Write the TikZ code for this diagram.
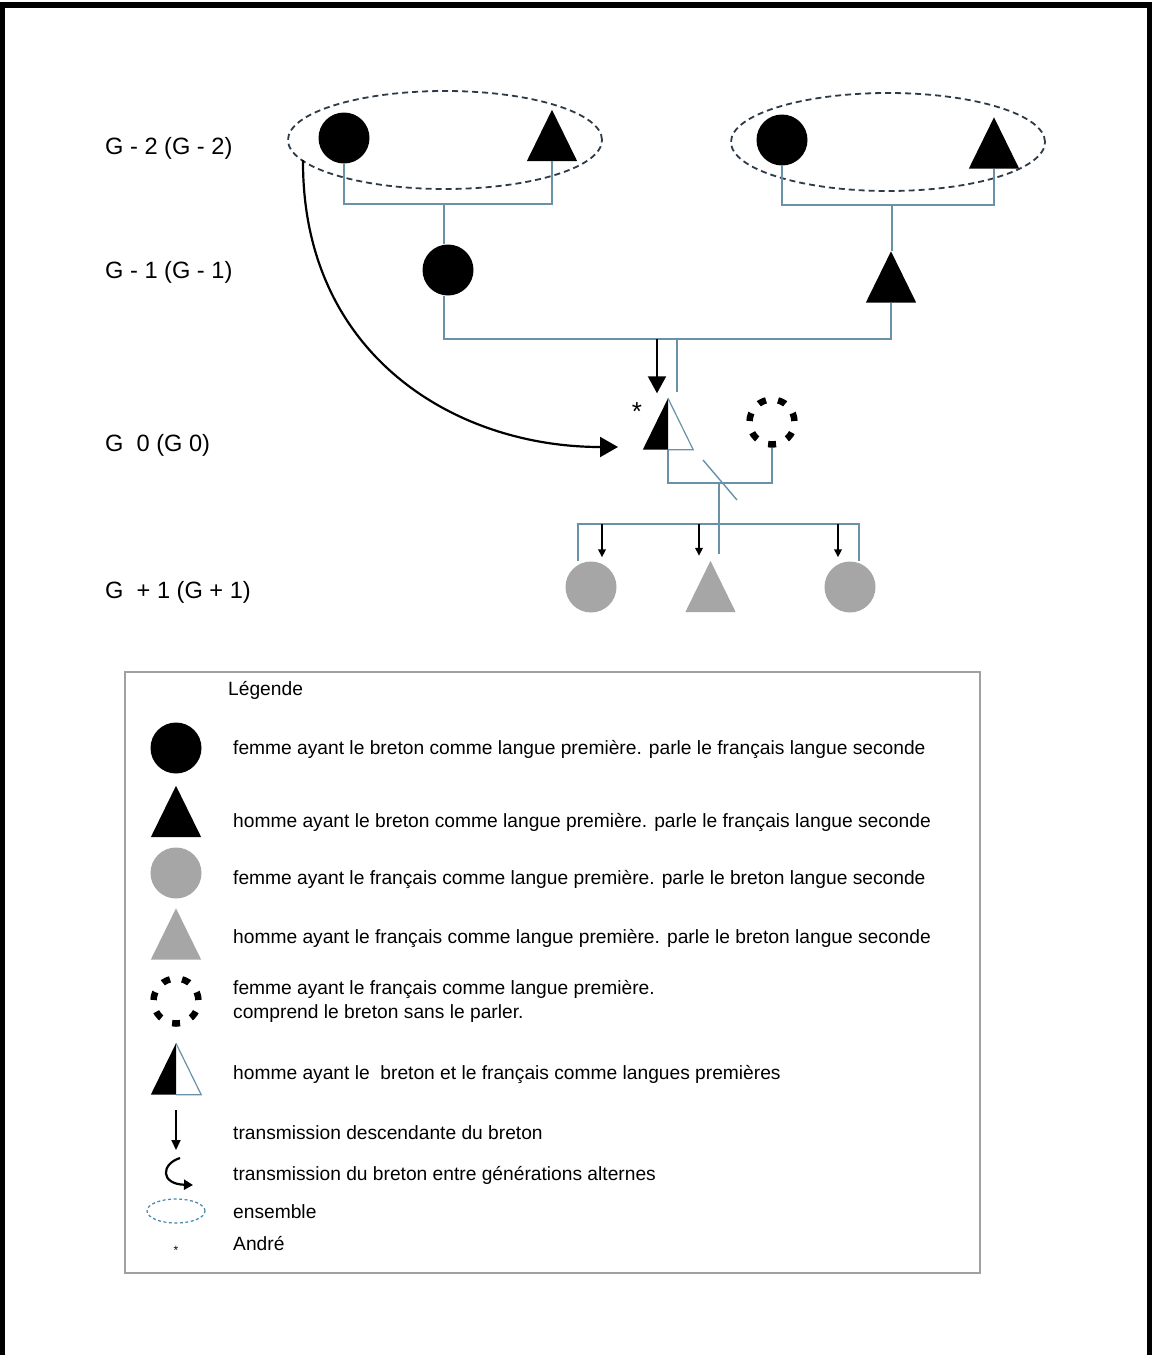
\documentclass[tikz,border=0pt]{standalone}
\usepackage{fontspec}
\setmainfont{Liberation Sans}
\usetikzlibrary{shapes.geometric,arrows.meta}
\definecolor{conn}{RGB}{105,145,168}
\definecolor{grayfill}{RGB}{166,166,166}
\definecolor{ensdash}{RGB}{45,58,72}
\definecolor{ensblue}{RGB}{70,135,170}
\definecolor{leggray}{RGB}{160,160,160}
\newcommand\trifill[2]{\fill[#2] (#1.north) -- (#1.south east) -- (#1.south west) -- cycle;}
\newcommand\trihalf[1]{\fill[black] (#1.north) -- (#1.south) -- (#1.south west) -- cycle;
  \draw[conn,line width=1.2] (#1.north) -- (#1.south east) -- (#1.south);}
\begin{document}
\begin{tikzpicture}[x=1pt,y=-1pt,
  fem/.style={circle, fill=black, minimum size=51, inner sep=0},
  femg/.style={circle, fill=grayfill, minimum size=51, inner sep=0},
  tribox/.style={rectangle, minimum width=50, minimum height=51, inner sep=0},
  dcirc/.style={circle, draw=black, line width=6.5, minimum size=45, inner sep=0, dash pattern=on 8 off 12.19, dash phase=19.2},
  link/.style={draw=conn, line width=1.4},
  ens/.style={ellipse, draw=ensdash, line width=1.8, dash pattern=on 6 off 4, inner sep=0},
  arrbig/.style={line width=2, -{Triangle[length=17,width=18]}},
  arrsmall/.style={line width=1.7, -{Triangle[length=8,width=7.5]}},
  glabel/.style={anchor=west, font=\fontsize{23.6}{27}\selectfont, inner sep=0},
  ltext/.style={anchor=west, font=\fontsize{19.2}{24}\selectfont, inner sep=0, align=left}]
\useasboundingbox (0,0) rectangle (1152,1355);
\fill[white] (0,0) rectangle (1152,1355);
% frame
\fill[black] (0,2) rectangle (1152,8);
\fill[black] (0,2) rectangle (5,1355);
\fill[black] (1147,2) rectangle (1152,1355);

% generation labels
\node[glabel] (lg2) at (105,148) {G - 2 (G - 2)};
\node[glabel] (lg1) at (105,272) {G - 1 (G - 1)};
\node[glabel] (lg0) at (105,445) {G~ 0 (G 0)};
\node[glabel] (lgp) at (105,592) {G~ + 1 (G + 1)};

% G-2
\node[ens, minimum width=314, minimum height=98] (e1) at (445,140) {};
\node[ens, minimum width=314, minimum height=98] (e2) at (888,142) {};
\node[fem] (c1) at (344,138) {};
\node[tribox] (t1) at (552,135.5) {};
\trifill{t1}{black}
\node[fem] (c2) at (782,140) {};
\node[tribox] (t2) at (994,143) {};
\trifill{t2}{black}

% G-1
\node[fem] (p1) at (448,270) {};
\node[tribox] (p2) at (891,277) {};
\trifill{p2}{black}

\coordinate (j1) at (444,204);
\coordinate (j2) at (892,205);
\draw[link] (c1.south) -- (c1.south |- j1) -- (t1.south |- j1) -- (t1.south);
\draw[link] (j1) -- (j1 |- p1.north);
\draw[link] (c2.south) -- (c2.south |- j2) -- (t2.south |- j2) -- (t2.south);
\draw[link] (j2) -- (j2 |- p2.north);

% G0
\node[tribox] (a) at (668,424) {};
\trihalf{a}
\node[font=\fontsize{26}{26}\selectfont, inner sep=0] (ast) at (637,412) {*};
\node[dcirc] (w) at (772,422) {};

\coordinate (j3) at (677,339);
\coordinate (d1) at (657,339);
\draw[link] (p1.south -| j1) -- (j1 |- j3) -- (p2.south |- j3) -- (p2.south);
\draw[link] (j3) -- ([yshift=6pt]j3 |- a.north);
\draw[arrbig] (d1) -- ([yshift=5pt]d1 |- a.north);

% curved arrow (alternate generations)
\coordinate (cs) at (303,160);
\coordinate (ce) at (618,447);
\draw[line width=2.2, -{Triangle[length=18,width=20]}] (cs) .. controls (302,355) and (455,447) .. (ce);

% marriage line
\coordinate (j4) at (719,483);
\draw[link] (a.south) -- (a.south |- j4) -- (w.south |- j4) -- (w.south);
\draw[link] ([shift={(-16,-23)}]j4) -- ([shift={(18,17)}]j4);

% G+1
\node[femg] (k1) at (591,587) {};
\node[tribox] (k2) at (710.5,586.5) {};
\trifill{k2}{grayfill}
\node[femg] (k3) at (850,587) {};

\coordinate (s1) at (578,524);
\coordinate (s2) at (859,524);
\draw[link] (j4) -- ([yshift=7pt]j4 |- k2.north);
\draw[link] (k1.north -| s1) -- (s1) -- (s2) -- (s2 |- k3.north);
\draw[arrsmall] ([xshift=11pt]s1 -| k1) -- ([xshift=11pt,yshift=4pt]k1.north);
\draw[arrsmall] ([xshift=-11.5pt]s1 -| k2) -- ([xshift=-11.5pt,yshift=5pt]k2.north);
\draw[arrsmall] ([xshift=-12pt]s1 -| k3) -- ([xshift=-12pt,yshift=4pt]k3.north);

% legend
\node[draw=leggray, line width=2.5, minimum width=855, minimum height=601, inner sep=0] (leg) at (552.5,972.5) {};
\node[ltext] (lt0) at (228,690) {Légende};

\node[fem] (l1) at (176,748) {};
\node[ltext] (lt1) at (233,749) {femme ayant le breton comme langue première. parle le français langue seconde};
\node[tribox] (l2) at (176,811.5) {};
\trifill{l2}{black}
\node[ltext] (lt2) at (233,822) {homme ayant le breton comme langue première. parle le français langue seconde};
\node[femg] (l3) at (176,873) {};
\node[ltext] (lt3) at (233,879) {femme ayant le français comme langue première. parle le breton langue seconde};
\node[tribox] (l4) at (176,934) {};
\trifill{l4}{grayfill}
\node[ltext] (lt4) at (233,938) {homme ayant le français comme langue première. parle le breton langue seconde};
\node[dcirc] (l5) at (176,1001) {};
\node[ltext] (lt5) at (233,1001) {femme ayant le français comme langue première.\\comprend le breton sans le parler.};
\node[tribox] (l6) at (176,1069) {};
\trihalf{l6}
\node[ltext] (lt6) at (233,1074) {homme ayant le~ breton et le français comme langues premières};
\coordinate (l7a) at (176,1110);
\coordinate (l7b) at (176,1150);
\draw[line width=1.7, -{Triangle[length=10,width=9]}] (l7a) -- (l7b);
\node[ltext] (lt7) at (233,1133) {transmission descendante du breton};
\coordinate (l8a) at (180,1158);
\coordinate (l8b) at (193,1185);
\draw[line width=2.2, -{Triangle[length=9,width=10]}] (l8a) .. controls (161,1164) and (160,1184) .. (l8b);
\node[ltext] (lt8) at (233,1175) {transmission du breton entre générations alternes};
\node[ellipse, draw=ensblue, line width=1.2, dash pattern=on 3 off 2.5, minimum width=58, minimum height=24, inner sep=0] (l9) at (176,1211) {};
\node[ltext] (lt9) at (233,1212) {ensemble};
\node[font=\fontsize{12}{12}\selectfont, inner sep=0] (l10) at (176,1250) {*};
\node[ltext] (lt10) at (233,1244) {André};
\end{tikzpicture}
\end{document}
